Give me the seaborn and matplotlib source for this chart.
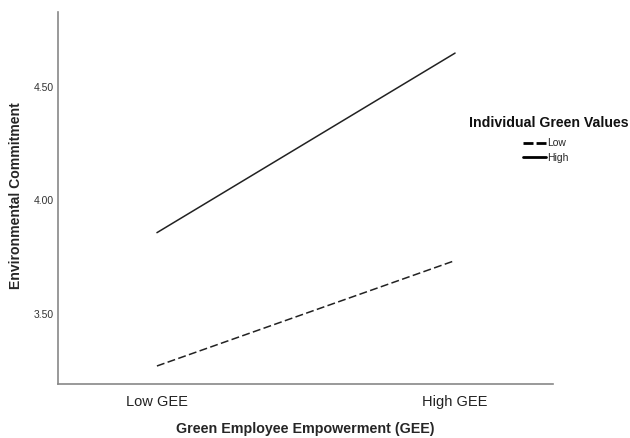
import matplotlib
matplotlib.use('Agg')
import matplotlib.pyplot as plt
import seaborn as sns
import pandas as pd

# Data
gee_levels = ['Low GEE', 'High GEE']
igv_levels = ['Low', 'High']
commit_low_igv = [3.27, 3.735]
commit_high_igv = [3.858, 4.65]

df = pd.DataFrame({
    'GEE': gee_levels * 2,
    'x': [0, 1] * 2,
    'IGV': [igv_levels[0]] * 2 + [igv_levels[1]] * 2,
    'commitment': commit_low_igv + commit_high_igv,
})

sns.set_style('white')
plt.rcParams['font.family'] = ['Liberation Sans', 'DejaVu Sans']

fig = plt.figure(figsize=(6.3, 4.38), dpi=100)
ax = fig.add_axes([0.092, 0.123, 0.786, 0.850])

sns.lineplot(data=df, x='x', y='commitment', style='IGV', style_order=igv_levels,
             dashes={'Low': (5.2, 2.2), 'High': ''}, color='#222222', linewidth=1.1,
             ax=ax, legend=False)

ax.set_xlim(-0.332, 1.329)
ax.set_ylim(3.19, 4.832)
ax.set_xticks([0, 1])
ax.set_xticklabels(gee_levels, fontsize=10.5, color='#222222')
ax.set_yticks([3.5, 4.0, 4.5])
ax.set_yticklabels(['3.50', '4.00', '4.50'], fontsize=7.5, color='#333333')
ax.tick_params(axis='y', length=0, pad=3)
ax.tick_params(axis='x', length=0, pad=8)
ax.set_xlabel('Green Employee Empowerment (GEE)', fontsize=10.3, fontweight='bold')
ax.set_ylabel('Environmental Commitment', fontsize=10.1, fontweight='bold')
ax.xaxis.set_label_coords(0.5, -0.103)
ax.yaxis.set_label_coords(-0.071, 0.505)
for s in ['top', 'right']:
    ax.spines[s].set_visible(False)
for s in ['left', 'bottom']:
    ax.spines[s].set_color('#888888')
    ax.spines[s].set_linewidth(1.2)

# legend outside the plot on the right
fig.text(549 / 630, 1 - 123 / 438, 'Individual Green Values', ha='center', va='center',
         fontsize=10.2, fontweight='bold', color='#111111')
handles = [plt.Line2D([], [], color='black', lw=2.0, dashes=(3.6, 1.1)),
           plt.Line2D([], [], color='black', lw=2.0)]
fig.legend(handles, igv_levels, loc='center', bbox_to_anchor=(546 / 630, 1 - 150.5 / 438),
           frameon=False, handlelength=2.2, handletextpad=0.15, labelspacing=0.4,
           fontsize=7.5, borderpad=0, borderaxespad=0)

fig.savefig('out.png', dpi=100)
